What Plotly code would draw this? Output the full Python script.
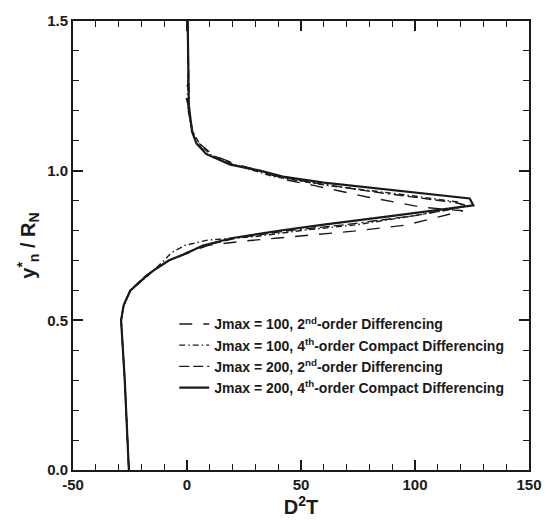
import plotly.graph_objects as go

# ---- data ----
names = [
    "Jmax = 100, 2<sup>nd</sup>-order Differencing",
    "Jmax = 100, 4<sup>th</sup>-order Compact Differencing",
    "Jmax = 200, 2<sup>nd</sup>-order Differencing",
    "Jmax = 200, 4<sup>th</sup>-order Compact Differencing",
]

x_ticks = [-50, 0, 50, 100, 150]
x_tick_text = ["-50", "0", "50", "100", "150"]
y_ticks = [0, 0.5, 1.0, 1.5]
y_tick_text = ["0.0", "0.5", "1.0", "1.5"]

# Jmax=100, 2nd order
y_a = [0.0, 0.1, 0.2, 0.3, 0.4, 0.5, 0.55, 0.6, 0.65, 0.7, 0.75, 0.765, 0.775, 0.798, 0.818, 0.825,
       0.845, 0.866, 0.872, 0.878, 0.913, 0.933, 0.95, 0.97, 1.0, 1.02, 1.05, 1.09, 1.13, 1.2, 1.25, 1.3, 1.5]
x_a = [-25.5, -26.0, -26.6, -27.3, -28.1, -28.9, -27.8, -25.0, -17.5, -8.0, 9.0, 25.0, 40.0, 73.0, 96.0, 100.0,
       110.0, 121.0, 110.0, 103.0, 78.5, 67.0, 56.0, 43.0, 32.0, 22.0, 12.0, 5.5, 2.5, 1.0, -0.5, 0.5, 0.3]

# Jmax=100, 4th order compact
y_b = [0.0, 0.1, 0.2, 0.3, 0.4, 0.5, 0.55, 0.6, 0.65, 0.7, 0.725, 0.75, 0.768, 0.78, 0.80, 0.82, 0.85, 0.87,
       0.882, 0.895, 0.92, 0.95, 0.98, 1.0, 1.02, 1.055, 1.09, 1.13, 1.2, 1.25, 1.3, 1.5]
x_b = [-25.5, -26.0, -26.6, -27.3, -28.1, -28.9, -27.8, -24.8, -17.0, -10.0, -7.0, -1.0, 9.0, 30.0, 50.0, 75.0,
       100.0, 115.0, 121.0, 119.0, 95.0, 62.0, 38.0, 30.0, 21.0, 10.0, 5.5, 2.5, 0.5, 0.2, 0.6, 0.3]

# Jmax=200, 2nd order
y_c = [0.0, 0.1, 0.2, 0.3, 0.4, 0.5, 0.55, 0.6, 0.65, 0.7, 0.725, 0.75, 0.775, 0.80, 0.82, 0.85, 0.87, 0.883,
       0.893, 0.93, 0.96, 0.98, 1.0, 1.02, 1.055, 1.09, 1.13, 1.2, 1.25, 1.5]
x_c = [-25.5, -26.0, -26.6, -27.3, -28.1, -28.9, -27.8, -25.0, -18.0, -8.0, -0.5, 8.0, 22.0, 45.0, 70.0, 100.0,
       115.0, 123.0, 118.0, 81.0, 55.0, 40.0, 31.0, 20.0, 9.0, 4.5, 2.3, 0.6, 0.9, 0.3]

# Jmax=200, 4th order compact
y_d = [0.0, 0.1, 0.2, 0.3, 0.4, 0.5, 0.55, 0.6, 0.65, 0.67, 0.7, 0.725, 0.75, 0.775, 0.8, 0.82, 0.85, 0.87,
       0.884, 0.907, 0.93, 0.96, 0.98, 1.0, 1.02, 1.055, 1.09, 1.13, 1.22, 1.35, 1.5]
x_d = [-25.5, -26.0, -26.6, -27.3, -28.1, -28.9, -27.8, -24.8, -17.5, -14.0, -8.0, 0.0, 7.0, 20.0, 41.0, 60.0,
       91.0, 111.0, 125.6, 124.0, 95.0, 60.0, 42.0, 32.0, 19.0, 8.5, 4.2, 2.2, 0.8, 0.5, 0.3]

xs = [x_a, x_b, x_c, x_d]
ys = [y_a, y_b, y_c, y_d]
dashes = ["13px,11px", "6px,3px,1.5px,3px", "10px,4px,10px,4px,10px,4px,10px,4px,2px,4px", "solid"]
widths = [1.4, 1.4, 1.4, 2.2]

fig = go.Figure()
for n, x, y, d, w in zip(names, xs, ys, dashes, widths):
    fig.add_trace(go.Scatter(x=x, y=y, mode="lines", name=n,
                             line=dict(color="#1a1a1a", width=w, dash=d)))

font = "Liberation Sans, Arial, sans-serif"
axis_common = dict(
    showline=True, linecolor="#1a1a1a", linewidth=2, mirror="ticks",
    ticks="inside", ticklen=10, tickwidth=1.5, tickcolor="#1a1a1a",
    showgrid=False, zeroline=False,
    tickfont=dict(family=font, size=15, color="#1a1a1a", weight="bold"),
)

fig.update_layout(
    width=554, height=527,
    margin=dict(l=73, r=14, t=15, b=57),
    paper_bgcolor="white", plot_bgcolor="white",
    showlegend=True,
    legend=dict(x=0.222, y=0.36, xanchor="left", yanchor="top",
                bgcolor="rgba(0,0,0,0)", borderwidth=0,
                font=dict(family=font, size=14, color="#1a1a1a", weight="bold"),
                tracegroupgap=0, itemwidth=30),
    xaxis=dict(range=[-50, 150], tickvals=x_ticks, ticktext=x_tick_text,
               minor=dict(dtick=10, ticks="inside", ticklen=6, tickcolor="#1a1a1a", tickwidth=1),
               title=dict(text="D<sup>2</sup>T", standoff=4,
                          font=dict(family=font, size=20, color="#1a1a1a", weight="bold")),
               **axis_common),
    yaxis=dict(range=[0, 1.5], tickvals=y_ticks, ticktext=y_tick_text,
               minor=dict(dtick=0.1, ticks="inside", ticklen=6, tickcolor="#1a1a1a", tickwidth=1),
               title=dict(text="y<sup>*</sup><sub>n</sub> / R<sub>N</sub>", standoff=6,
                          font=dict(family=font, size=20, color="#1a1a1a", weight="bold")),
               **axis_common),
)

fig.write_html("out.html")
